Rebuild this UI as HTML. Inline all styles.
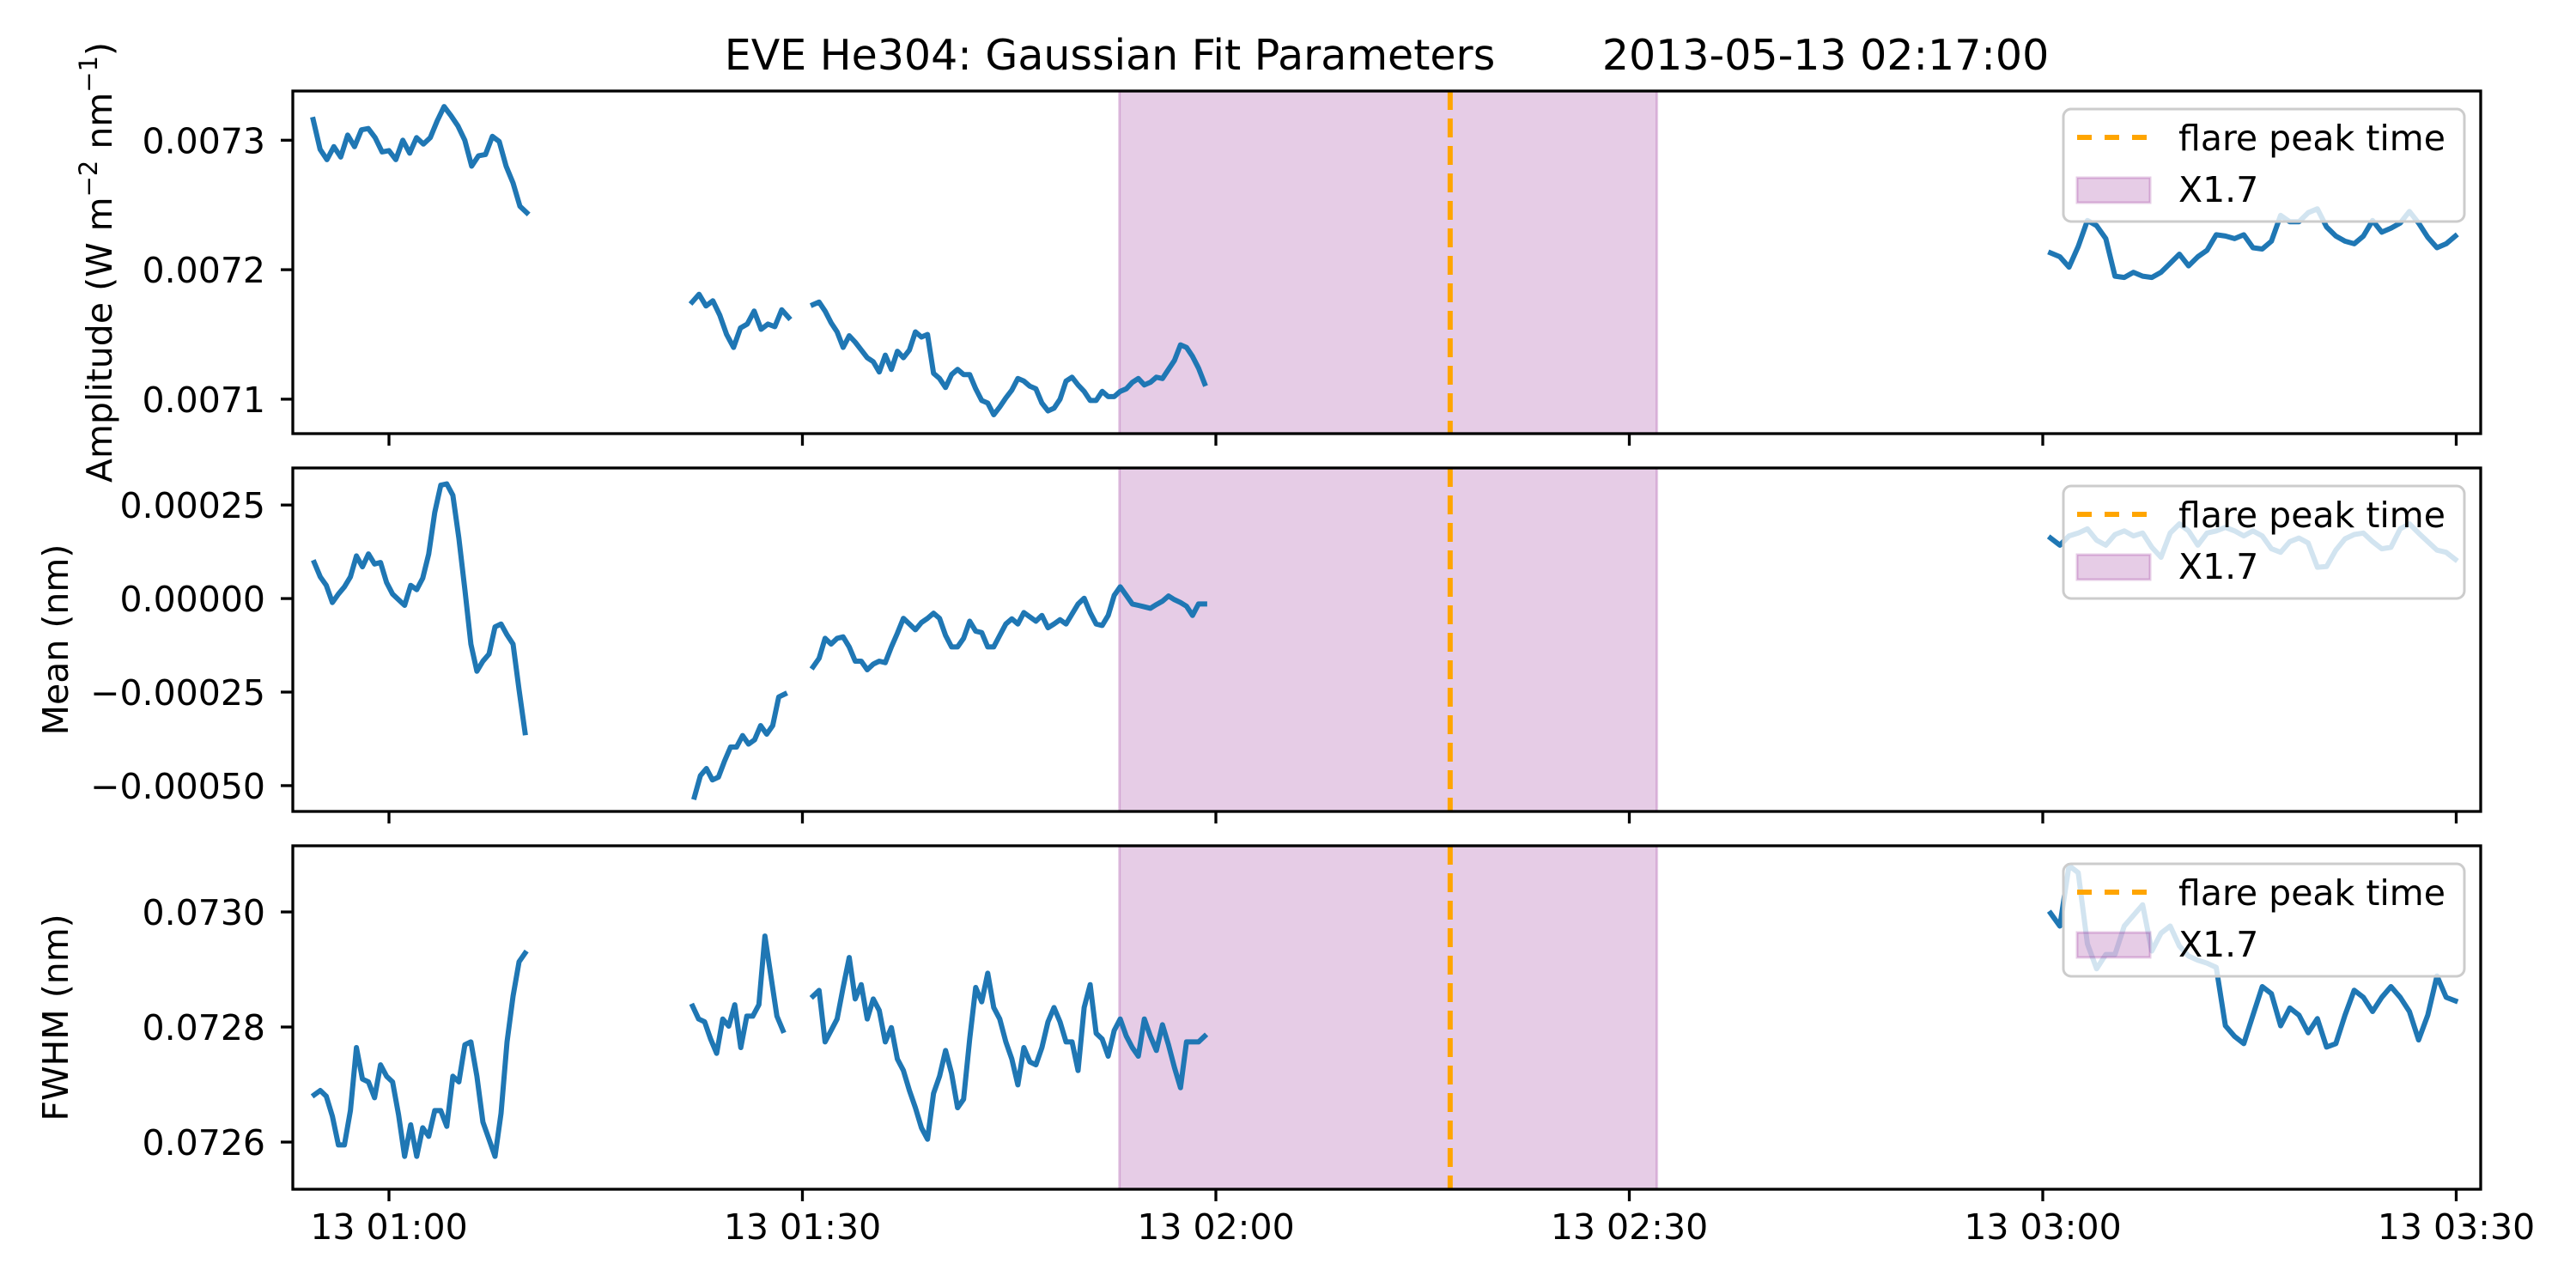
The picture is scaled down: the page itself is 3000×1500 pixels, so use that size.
<!DOCTYPE html>
<html><head><meta charset="utf-8">
<style>
html,body{margin:0;padding:0;background:#fff;}
svg{display:block;font-family:"DejaVu Sans","Liberation Sans",sans-serif;}
</style></head>
<body>
<svg id="fig" width="3000" height="1500" viewBox="0 0 3000 1500" xmlns="http://www.w3.org/2000/svg">
<rect width="3000" height="1500" fill="#fff"/>
<text x="1615" y="81" font-size="49" text-anchor="middle" fill="#000" xml:space="preserve">EVE He304: Gaussian Fit Parameters        2013-05-13 02:17:00</text>
</svg>
<script>
// ---- data (times in minutes after 2013-05-13 00:00) ----
const xTickMinutes = [60, 90, 120, 150, 180, 210];
const xTickLabels = ["13 01:00", "13 01:30", "13 02:00", "13 02:30", "13 03:00", "13 03:30"];
const flarePeak = [137];
const flareSpan = [113, 152];
const flareClass = ["X1.7"];

const ampStarts = [54.5, 82.0, 90.77, 180.57];
const ampSteps = [0.5, 0.5, 0.4371, 0.6675];
const ampSeg1 = [0.007316,0.007293,0.007285,0.007295,0.007287,0.007304,0.007295,0.007308,0.007309,0.007302,0.007291,0.007292,0.007285,0.007300,0.007290,0.007302,0.007297,0.007302,0.007315,0.007326,0.007319,0.007311,0.007300,0.007280,0.007288,0.007289,0.007303,0.007299,0.007280,0.007267,0.007249,0.007244];
const ampSeg2 = [0.007175,0.007181,0.007172,0.007176,0.007165,0.007150,0.007140,0.007155,0.007158,0.007168,0.007154,0.007158,0.007156,0.007169,0.007163];
const ampSeg3 = [0.007173,0.007175,0.007168,0.007159,0.007152,0.007140,0.007149,0.007144,0.007138,0.007132,0.007129,0.007121,0.007134,0.007123,0.007137,0.007132,0.007138,0.007152,0.007148,0.007150,0.007120,0.007116,0.007109,0.007119,0.007123,0.007119,0.007119,0.007108,0.007099,0.007097,0.007088,0.007094,0.007101,0.007107,0.007116,0.007114,0.007110,0.007108,0.007097,0.007091,0.007093,0.007100,0.007114,0.007117,0.007111,0.007106,0.007099,0.007099,0.007106,0.007102,0.007102,0.007106,0.007108,0.007113,0.007116,0.007111,0.007113,0.007117,0.007116,0.007123,0.007130,0.007142,0.007140,0.007133,0.007124,0.007112];
const ampSeg4 = [0.007213,0.007210,0.007202,0.007218,0.007238,0.007234,0.007224,0.007195,0.007194,0.007198,0.007195,0.007194,0.007198,0.007205,0.007212,0.007203,0.007210,0.007215,0.007227,0.007226,0.007224,0.007227,0.007217,0.007216,0.007222,0.007242,0.007237,0.007237,0.007244,0.007247,0.007233,0.007226,0.007222,0.007220,0.007226,0.007238,0.007229,0.007232,0.007236,0.007245,0.007236,0.007225,0.007217,0.007220,0.007226];

const meanStarts = [54.58, 82.16, 90.77, 180.57];
const meanSteps = [0.4371, 0.4371, 0.4371, 0.6675];
const meanSeg1 = [9.63e-5,5.81e-5,3.52e-5,-1.07e-5,1.22e-5,3.13e-5,5.81e-5,1.139e-4,8.49e-5,1.193e-4,9.25e-5,9.63e-5,4.28e-5,1.22e-5,-3.1e-6,-1.83e-5,3.52e-5,2.37e-5,5.43e-5,1.193e-4,2.301e-4,3.028e-4,3.066e-4,2.760e-4,1.613e-4,2.37e-5,-1.216e-4,-1.942e-4,-1.674e-4,-1.483e-4,-7.57e-5,-6.80e-5,-9.71e-5,-1.216e-4,-2.439e-4,-3.586e-4];
const meanSeg2 = [-5.306e-4,-4.733e-4,-4.542e-4,-4.847e-4,-4.771e-4,-4.350e-4,-3.968e-4,-3.968e-4,-3.662e-4,-3.891e-4,-3.777e-4,-3.395e-4,-3.624e-4,-3.395e-4,-2.630e-4,-2.553e-4];
const meanSeg3 = [-1.827e-4,-1.598e-4,-1.063e-4,-1.216e-4,-1.063e-4,-1.025e-4,-1.292e-4,-1.674e-4,-1.674e-4,-1.904e-4,-1.751e-4,-1.674e-4,-1.712e-4,-1.292e-4,-9.25e-5,-5.28e-5,-6.80e-5,-8.33e-5,-6.42e-5,-5.28e-5,-3.90e-5,-5.28e-5,-9.86e-5,-1.292e-4,-1.292e-4,-1.063e-4,-6.04e-5,-8.72e-5,-9.10e-5,-1.292e-4,-1.292e-4,-9.86e-5,-6.80e-5,-5.43e-5,-6.80e-5,-3.75e-5,-4.89e-5,-6.04e-5,-4.51e-5,-7.80e-5,-6.80e-5,-5.66e-5,-6.80e-5,-4.13e-5,-1.45e-5,8e-7,-3.75e-5,-6.80e-5,-7.19e-5,-4.51e-5,8.4e-6,3.13e-5,8.4e-6,-1.45e-5,-1.83e-5,-2.22e-5,-2.60e-5,-1.61e-5,-6.9e-6,6.9e-6,-3.1e-6,-1.07e-5,-2.06e-5,-4.51e-5,-1.45e-5,-1.45e-5];
const meanSeg4 = [1.617e-4,1.427e-4,1.674e-4,1.750e-4,1.862e-4,1.560e-4,1.427e-4,1.711e-4,1.807e-4,1.674e-4,1.750e-4,1.369e-4,1.103e-4,1.750e-4,1.996e-4,1.807e-4,1.427e-4,1.750e-4,1.807e-4,1.901e-4,1.807e-4,1.674e-4,1.807e-4,1.674e-4,1.330e-4,1.236e-4,1.521e-4,1.617e-4,1.484e-4,8.37e-5,8.56e-5,1.294e-4,1.596e-4,1.711e-4,1.750e-4,1.521e-4,1.330e-4,1.369e-4,1.862e-4,1.996e-4,1.750e-4,1.521e-4,1.294e-4,1.236e-4,1.046e-4];

const fwhmStarts = [54.58, 82.03, 90.77, 180.57];
const fwhmSteps = [0.4371, 0.4371, 0.4371, 0.6675];
const fwhmSeg1 = [0.0726821,0.0726896,0.0726796,0.0726448,0.0725950,0.0725950,0.0726547,0.0727642,0.0727095,0.0727045,0.0726771,0.0727343,0.0727144,0.0727045,0.0726473,0.0725751,0.0726299,0.0725751,0.0726249,0.0726100,0.0726547,0.0726547,0.0726274,0.0727144,0.0727045,0.0727692,0.0727741,0.0727144,0.0726348,0.0726050,0.0725751,0.0726498,0.0727741,0.0728537,0.0729134,0.0729284];
const fwhmSeg2 = [0.0728363,0.0728139,0.0728090,0.0727791,0.0727542,0.0728139,0.0728015,0.0728388,0.0727642,0.0728189,0.0728189,0.0728388,0.0729582,0.0728886,0.0728189,0.0727940];
const fwhmSeg3 = [0.0728537,0.0728637,0.0727741,0.0727940,0.0728139,0.0728687,0.0729209,0.0728488,0.0728736,0.0728139,0.0728488,0.0728288,0.0727741,0.0727990,0.0727443,0.0727244,0.0726896,0.0726597,0.0726249,0.0726050,0.0726846,0.0727144,0.0727592,0.0727194,0.0726597,0.0726746,0.0727791,0.0728687,0.0728438,0.0728935,0.0728338,0.0728139,0.0727741,0.0727443,0.0726995,0.0727642,0.0727393,0.0727343,0.0727642,0.0728090,0.0728338,0.0728090,0.0727741,0.0727741,0.0727244,0.0728338,0.0728736,0.0727891,0.0727791,0.0727493,0.0727940,0.0728139,0.0727841,0.0727642,0.0727493,0.0728139,0.0727841,0.0727592,0.0728040,0.0727692,0.0727294,0.0726945,0.0727741,0.0727741,0.0727741,0.0727841];
const fwhmSeg4 = [0.0729978,0.0729755,0.0730806,0.0730682,0.0729445,0.0729012,0.0729260,0.0729260,0.0729755,0.0729940,0.0730125,0.0729321,0.0729631,0.0729755,0.0729408,0.0729234,0.0729161,0.0729110,0.0729037,0.0728022,0.0727836,0.0727712,0.0728207,0.0728703,0.0728579,0.0728022,0.0728331,0.0728207,0.0727899,0.0728146,0.0727651,0.0727712,0.0728207,0.0728640,0.0728516,0.0728270,0.0728516,0.0728703,0.0728516,0.0728270,0.0727775,0.0728207,0.0728888,0.0728516,0.0728455];

const ampTicks = [0.0071, 0.0072, 0.0073];
const ampTickLabels = ["0.0071", "0.0072", "0.0073"];
const meanTicks = [-0.0005, -0.00025, 0, 0.00025];
const meanTickLabels = ["\u22120.00050", "\u22120.00025", "0.00000", "0.00025"];
const fwhmTicks = [0.0726, 0.0728, 0.0730];
const fwhmTickLabels = ["0.0726", "0.0728", "0.0730"];

// ---- layout ----
const NS = "http://www.w3.org/2000/svg";
const svg = document.getElementById("fig");
const AX_L = 341, AX_R = 2889;
const T0 = 60, PX0 = 453, PX_PER_MIN = 16.05;
function xScale(t){ return PX0 + (t - T0) * PX_PER_MIN; }
function mk(tag, attrs, parent){
  const e = document.createElementNS(NS, tag);
  for (const k in attrs) e.setAttribute(k, attrs[k]);
  (parent || svg).appendChild(e);
  return e;
}

const panels = [
  {name:"amplitude", top:106, bot:505, ymin:0.0070734, ymax:0.007338,
   segs:[ampSeg1,ampSeg2,ampSeg3,ampSeg4], starts:ampStarts, steps:ampSteps,
   ticks:ampTicks, labels:ampTickLabels, ylabel:"Amplitude (W m<tspan baseline-shift='super' font-size='29'>\u22122</tspan> nm<tspan baseline-shift='super' font-size='29'>\u22121</tspan>)", ylx:130},
  {name:"mean", top:545, bot:945, ymin:-0.000569, ymax:0.000349,
   segs:[meanSeg1,meanSeg2,meanSeg3,meanSeg4], starts:meanStarts, steps:meanSteps,
   ticks:meanTicks, labels:meanTickLabels, ylabel:"Mean (nm)", ylx:79},
  {name:"fwhm", top:985, bot:1385, ymin:0.072518, ymax:0.073115,
   segs:[fwhmSeg1,fwhmSeg2,fwhmSeg3,fwhmSeg4], starts:fwhmStarts, steps:fwhmSteps,
   ticks:fwhmTicks, labels:fwhmTickLabels, ylabel:"FWHM (nm)", ylx:79}
];

panels.forEach((p, pi) => {
  const yScale = v => p.bot - (v - p.ymin) / (p.ymax - p.ymin) * (p.bot - p.top);
  const g = mk("g", {});
  
  
  const sx0 = xScale(flareSpan[0]), sx1 = xScale(flareSpan[1]);
  const span = mk("rect", {x:sx0, y:p.top, width:sx1-sx0, height:p.bot-p.top, fill:"rgba(128,0,128,0.2)", stroke:"rgba(128,0,128,0.2)", "stroke-width":3}, g);
  
  
  p.segs.forEach((seg, si) => {
    const pts = seg.map((v, i) => xScale(p.starts[si] + i * p.steps[si]).toFixed(1) + "," + yScale(v).toFixed(1)).join(" ");
    const line = mk("polyline", {points:pts, fill:"none", stroke:"#1f77b4", "stroke-width":6, "stroke-linejoin":"round", "stroke-linecap":"square"}, g);
    
    
  });
  const px = xScale(flarePeak[0]);
  const vl = mk("line", {x1:px, x2:px, y1:p.top, y2:p.bot, stroke:"#ffa500", "stroke-width":6, "stroke-dasharray":"22 10"}, g);
  
  
  // legend
  const lt = p.top + 21;
  const lg = mk("g", {}, g);
  
  
  mk("rect", {x:2403, y:lt, width:467, height:131, rx:9, fill:"rgba(255,255,255,0.8)", stroke:"#cccccc", "stroke-width":3}, lg);
  const le1 = mk("line", {x1:2419, x2:2503, y1:lt+33, y2:lt+33, stroke:"#ffa500", "stroke-width":6, "stroke-dasharray":"17 15"}, lg);
  
  
  const t1 = mk("text", {x:2537, y:lt+48, "font-size":41, fill:"#000"}, lg);
  t1.textContent = "flare peak time";
  
  
  const le2 = mk("rect", {x:2419, y:lt+80, width:85, height:29, fill:"rgba(128,0,128,0.2)", stroke:"rgba(128,0,128,0.2)", "stroke-width":3}, lg);
  
  
  const t2 = mk("text", {x:2537, y:lt+108, "font-size":41, fill:"#000"}, lg);
  t2.textContent = flareClass[0];
  
  
  const fr = mk("rect", {x:AX_L, y:p.top, width:AX_R-AX_L, height:p.bot-p.top, fill:"none", stroke:"#000", "stroke-width":3.3}, g);
  
  
  p.ticks.forEach((v, i) => {
    const y = yScale(v);
    const tk = mk("line", {x1:AX_L-14, x2:AX_L, y1:y, y2:y, stroke:"#000", "stroke-width":3.3}, g);
    
    
    const tl = mk("text", {x:309, y:y+15, "font-size":41, "text-anchor":"end", fill:"#000"}, g);
    tl.textContent = p.labels[i];
    
    
  });
  xTickMinutes.forEach((t, i) => {
    const x = xScale(t);
    const tk = mk("line", {x1:x, x2:x, y1:p.bot, y2:p.bot+14, stroke:"#000", "stroke-width":3.3}, g);
    
    
    if (pi === 2) {
      const tl = mk("text", {x:x, y:1443, "font-size":41, "text-anchor":"middle", fill:"#000"}, g);
      tl.textContent = xTickLabels[i];
      
      
    }
  });
  const cy = (p.top + p.bot) / 2;
  const yl = mk("text", {x:p.ylx, y:cy, "font-size":41, "text-anchor":"middle", fill:"#000", transform:"rotate(-90 " + p.ylx + " " + cy + ")"}, g);
  yl.innerHTML = p.ylabel;
  
  
});
</script>
</body></html>
